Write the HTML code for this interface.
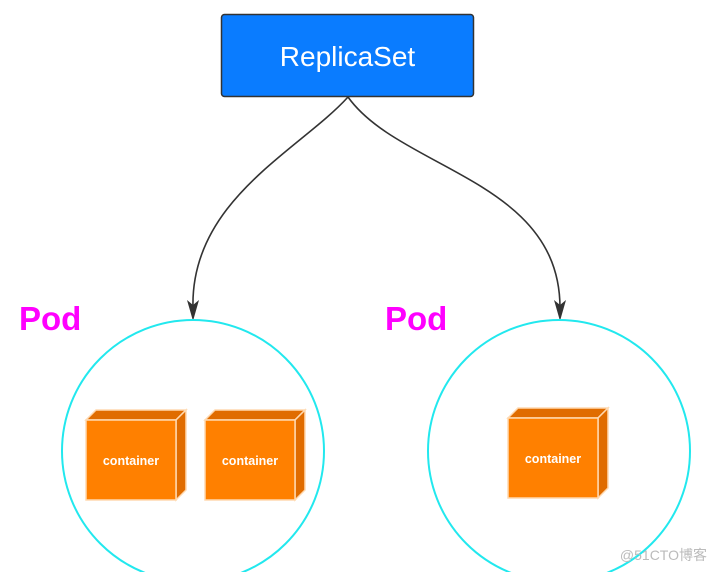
<!DOCTYPE html>
<html><head><style>
body{margin:0;width:715px;height:572px;background:#fff;overflow:hidden;font-family:"Liberation Sans",sans-serif}
</style></head><body>
<svg width="715" height="572" viewBox="0 0 715 572" xmlns="http://www.w3.org/2000/svg">
<defs>
<g id="cube">
<polygon points="0,10 10,0 100,0 90,10" fill="#e06c00" stroke="#ffd9b0" stroke-width="1.5"/>
<polygon points="90,10 100,0 100,80 90,90" fill="#e06c00" stroke="#ffd9b0" stroke-width="1.5"/>
<rect x="0" y="10" width="90" height="80" fill="#ff8000" stroke="#ffd9b0" stroke-width="1.5"/>
<text x="45" y="55" font-size="12.5" font-weight="bold" fill="#fff" text-anchor="middle" font-family="Liberation Sans, sans-serif">container</text>
</g>
</defs>
<rect x="221.5" y="14.5" width="252" height="82" rx="3" fill="#0a7cff" stroke="#333" stroke-width="1.5"/>
<text x="347.5" y="66" font-size="28" fill="#fff" text-anchor="middle">ReplicaSet</text>
<path d="M348,97 C300,150 190,200 193,308" fill="none" stroke="#333" stroke-width="1.6"/>
<path d="M348,97 C400,170 560,180 560,308" fill="none" stroke="#333" stroke-width="1.6"/>
<polygon points="187,300 193,305 199,300 193,321" fill="#333"/>
<polygon points="554,300 560,305 566,300 560,321" fill="#333"/>
<circle cx="193" cy="451" r="131" fill="none" stroke="#22e8ee" stroke-width="2"/>
<circle cx="559" cy="451" r="131" fill="none" stroke="#22e8ee" stroke-width="2"/>
<text x="19" y="330" font-size="33" font-weight="bold" fill="#ff00ff">Pod</text>
<text x="385" y="330" font-size="33" font-weight="bold" fill="#ff00ff">Pod</text>
<use href="#cube" x="86" y="410"/>
<use href="#cube" x="205" y="410"/>
<use href="#cube" x="508" y="408"/>
<text x="707" y="560" font-size="14" fill="#bbb" text-anchor="end" font-family="Liberation Sans, Noto Sans CJK SC, sans-serif">@51CTO博客</text>
</svg>
</body></html>
